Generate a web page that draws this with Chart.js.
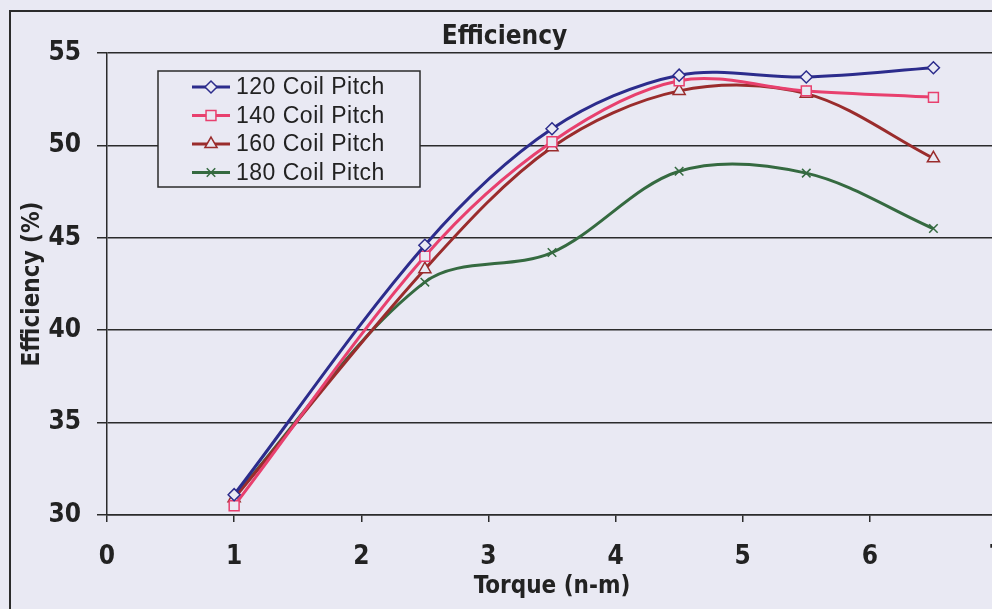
<!DOCTYPE html>
<html>
<head>
<meta charset="utf-8">
<script src="https://cdn.jsdelivr.net/npm/chart.js@4/dist/chart.umd.min.js"></script>
<style>
html, body { margin: 0; padding: 0; background: #e9e9f3; overflow: hidden; }
#wrap { width: 1016px; height: 630px; }
</style>
</head>
<body>
<div id="wrap"><canvas id="chart" width="1016" height="630"></canvas></div>
<script>
// values
const torque = [1, 2.5, 3.5, 4.5, 5.5, 6.5];
const pitch120 = [31.1, 44.6, 50.9, 53.8, 53.7, 54.2];
const pitch140 = [30.5, 44.0, 50.2, 53.5, 52.95, 52.6];
const pitch160 = [30.9, 43.3, 49.9, 52.95, 52.8, 49.3];
const pitch180 = [31.0, 42.6, 44.2, 48.6, 48.5, 45.5];
const seriesLabels = ['120 Coil Pitch', '140 Coil Pitch', '160 Coil Pitch', '180 Coil Pitch'];
const xRange = [0, 7];
const yRange = [30, 55];

const bg = '#e9e9f3';
const ink = '#2b2b2b';
const narrow = "'Liberation Sans Narrow', 'DejaVu Sans Condensed', sans-serif";

function series(label, values, color, style, radius) {
    return {
        label: label,
        data: torque.map((t, i) => ({ x: t, y: values[i] })),
        borderColor: color,
        borderWidth: 3,
        pointStyle: style,
        pointRadius: radius,
        pointBorderColor: color,
        pointBackgroundColor: bg,
        pointBorderWidth: 1.5,
        tension: 0.33,
        fill: false
    };
}

// frame round the whole chart plus the legend box inside the plot
const framePlugin = {
    id: 'frame',
    beforeDraw(chart) {
        const ctx = chart.ctx;
        ctx.save();
        ctx.fillStyle = bg;
        ctx.fillRect(0, 0, chart.width, chart.height);
        ctx.strokeStyle = ink;
        ctx.lineWidth = 2;
        ctx.strokeRect(10, 11, chart.width + 20, chart.height + 20);
        ctx.restore();
    },
    afterDraw(chart) {
        const ctx = chart.ctx;
        ctx.save();
        ctx.fillStyle = bg;
        ctx.fillRect(158, 71, 262, 116);
        ctx.strokeStyle = ink;
        ctx.lineWidth = 1.5;
        ctx.strokeRect(158, 71, 262, 116);
        chart.data.datasets.forEach((ds, i) => {
            const y = 87 + i * 28.5;
            ctx.strokeStyle = ds.borderColor;
            ctx.lineWidth = 3;
            ctx.beginPath();
            ctx.moveTo(192, y);
            ctx.lineTo(230, y);
            ctx.stroke();
            ctx.fillStyle = bg;
            ctx.lineWidth = 1.5;
            if (Chart.helpers && Chart.helpers.drawPoint) {
                Chart.helpers.drawPoint(ctx, { pointStyle: ds.pointStyle, radius: ds.pointRadius, rotation: 0, borderWidth: 1.5 }, 211, y);
            }
            ctx.fillStyle = '#222';
            ctx.font = "23px 'Liberation Sans', Arial, sans-serif";
            ctx.letterSpacing = '0.5px';
            ctx.textBaseline = 'middle';
            ctx.fillText(ds.label, 236, y + 1);
        });
        ctx.restore();
    }
};

new Chart(document.getElementById('chart'), {
    type: 'line',
    data: {
        datasets: [
            series(seriesLabels[0], pitch120, '#2c2c8c', 'rectRot', 6),
            series(seriesLabels[1], pitch140, '#e8406e', 'rect', 7),
            series(seriesLabels[2], pitch160, '#9a2c2c', 'triangle', 7),
            series(seriesLabels[3], pitch180, '#356a40', 'crossRot', 6)
        ]
    },
    options: {
        responsive: false,
        animation: false,
        layout: { padding: { left: 12, top: 12, right: 19, bottom: 26 } },
        plugins: {
            legend: { display: false },
            tooltip: { enabled: false },
            title: {
                display: true,
                text: 'Efficiency',
                color: '#222',
                font: { family: narrow, size: 26, weight: 'bold', lineHeight: 1 },
                padding: { top: 12, bottom: 3 }
            }
        },
        scales: {
            x: {
                type: 'linear',
                min: xRange[0],
                max: xRange[1],
                afterFit(scale) {
                    scale.height = 89;
                    scale.paddingLeft = 0;
                    scale.paddingRight = 0;
                },
                ticks: { stepSize: 1, color: '#222', padding: 20, font: { family: narrow, size: 26, weight: 'bold' } },
                grid: { drawOnChartArea: false, color: ink, lineWidth: 1.5, tickLength: 7 },
                border: { color: ink, width: 1.5 },
                title: { display: true, text: 'Torque (n-m)', color: '#222', padding: { top: 0, bottom: 3 }, font: { family: narrow, size: 24, weight: 'bold' } }
            },
            y: {
                min: yRange[0],
                max: yRange[1],
                afterFit(scale) { scale.width = 95; },
                ticks: { stepSize: 5, color: '#222', padding: 16, font: { family: narrow, size: 26, weight: 'bold' } },
                grid: { color: ink, lineWidth: 1.5, tickLength: 10 },
                border: { color: ink, width: 1.5 },
                title: { display: true, text: 'Efficiency (%)', color: '#222', padding: { top: 6, bottom: 0 }, font: { family: narrow, size: 24, weight: 'bold' } }
            }
        }
    },
    plugins: [framePlugin]
});
</script>
</body>
</html>
